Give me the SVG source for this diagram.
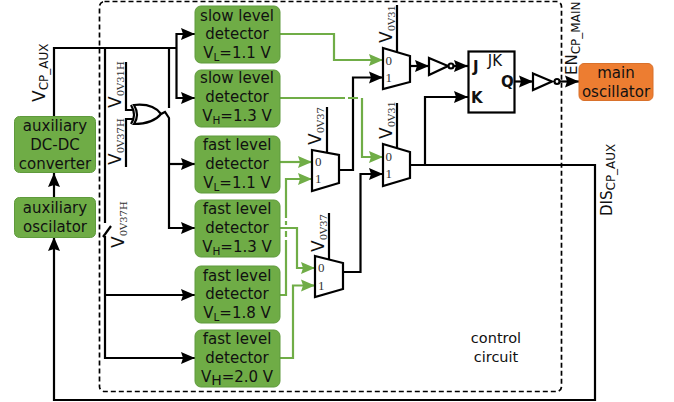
<svg xmlns="http://www.w3.org/2000/svg" width="674" height="402" viewBox="0 0 674 402">
<style>
text{font-family:"DejaVu Sans",sans-serif;fill:#111}
.n rect{fill:#6fac46;stroke:#5f9a3c;stroke-width:1}
.t{font-size:15px;text-anchor:middle}
.sub{font-size:10.5px}
.k{fill:none;stroke:#000;stroke-width:2.200}
.g{fill:none;stroke:#70ad47;stroke-width:2.200}
.gate{fill:#fff;stroke:#000;stroke-width:2.200}
.lab{font-size:17px}
.lab2{font-size:15px}
.ser{font-family:"DejaVu Serif",serif;font-size:10px;fill:#333}
.m{font-family:"Liberation Serif",serif;font-size:13px;fill:#333}
.b{font-size:15px;font-weight:bold}
</style>
<defs>
<marker id="ak" markerUnits="userSpaceOnUse" markerWidth="15" markerHeight="13" refX="14" refY="6.500" orient="auto"><path d="M0,0.500L14,6.500L0,12.500L2,6.500Z" fill="#000"/></marker>
<marker id="ag" markerUnits="userSpaceOnUse" markerWidth="15" markerHeight="13" refX="14" refY="6.500" orient="auto"><path d="M0,0.500L14,6.500L0,12.500L2,6.500Z" fill="#70ad47"/></marker>
</defs>
<rect x="99.500" y="1.500" width="462" height="390" rx="5" fill="none" stroke="#000" stroke-width="1.700" stroke-dasharray="5 3"/>
<g id="connectors">
<path class="k" d="M54,116V48H176.500"/>
<path class="k" d="M176.500,48V34H195" marker-end="url(#ak)"/>
<path class="k" d="M176.500,48V98H195" marker-end="url(#ak)"/>
<path class="k" d="M105,48V223"/>
<path class="k" d="M169,48V108"/>
<path class="k" d="M103,237L111,226"/>
<path class="k" d="M105,236V358H195" marker-end="url(#ak)"/>
<path class="k" d="M105,295H195" marker-end="url(#ak)"/>
<path class="k" d="M161,114L165,112L169,118V228H195" marker-end="url(#ak)"/>
<path class="k" d="M169,164H195" marker-end="url(#ak)"/>
<path class="k" d="M54,197V173" marker-end="url(#ak)"/>
<path class="k" d="M126,62V110H134"/>
<path class="k" d="M126,167V119H134"/>
<path class="k" d="M410,165H595V400H54V237" marker-end="url(#ak)"/>
<path class="k" d="M425,165V97H468" marker-end="url(#ak)"/>
<path class="k" d="M410,66H429" marker-end="url(#ak)"/>
<path class="k" d="M454,66H468" marker-end="url(#ak)"/>
<path class="k" d="M515,81.500H533" marker-end="url(#ak)"/>
<path class="k" d="M560,81.500H579" marker-end="url(#ak)"/>
<path class="k" d="M339,170H353V77.500H383" marker-end="url(#ak)"/>
<path class="k" d="M343,272H360.500V174H383" marker-end="url(#ak)"/>
<path class="k" d="M397,5V52"/>
<path class="k" d="M397,103V148"/>
<path class="k" d="M327,107V152"/>
<path class="k" d="M329,213V260"/>
<path class="g" d="M280,34H334V60H383" marker-end="url(#ag)"/>
<path class="g" d="M280,98H345M348,98H358"/>
<path class="g" d="M362,98V157H383" marker-end="url(#ag)"/>
<path class="g" d="M280,162H312" marker-end="url(#ag)"/>
<path class="g" d="M286,218V179H312" marker-end="url(#ag)"/>
<path class="g" d="M280,228H297V268H315" marker-end="url(#ag)"/>
<path class="g" d="M280,295H286V240M286,237V231M286,225V221"/>
<path class="g" d="M280,358H293V285.500H315" marker-end="url(#ag)"/>
</g>
<g id="xor">
<path class="k" d="M134,105Q153,103 161,114Q153,124 134,124Q140,115 134,105Z"/>
<path class="k" d="M131,105Q137,115 131,124"/>
</g>
<g id="mux-a"><path class="gate" d="M383,48L410,56V82L383,89Z"/><text class="m" x="385.500" y="65">0</text><text class="m" x="385.500" y="82">1</text></g>
<g id="mux-b"><path class="gate" d="M383,144L410,152V178L383,186Z"/><text class="m" x="385.500" y="161">0</text><text class="m" x="385.500" y="178">1</text></g>
<g id="mux-c"><path class="gate" d="M312,150L339,155V183L312,191Z"/><text class="m" x="315" y="166">0</text><text class="m" x="315" y="183">1</text></g>
<g id="mux-d"><path class="gate" d="M315,256L343,263V289L315,297Z"/><text class="m" x="318" y="272">0</text><text class="m" x="318" y="290">1</text></g>
<g id="inv-1"><path class="gate" d="M429,58L448,66L429,75Z"/><circle class="gate" cx="451" cy="66" r="2.500" stroke-width="1.500"/></g>
<g id="inv-2"><path class="gate" d="M533,73.500L552,81.500L533,90Z"/><circle class="gate" cx="557" cy="81.500" r="2.500" stroke-width="1.500"/></g>
<g id="jk"><rect class="gate" x="468.500" y="51.500" width="46" height="61"/>
<text x="495" y="66" font-size="15" text-anchor="middle">JK</text>
<text class="b" x="473" y="72">J</text>
<text class="b" x="471" y="103">K</text>
<text class="b" x="501" y="87">Q</text></g>
<g id="aux-dcdc" class="n"><rect x="14.500" y="116.500" width="81" height="56" rx="5"/><text class="t" x="55" y="131">auxiliary</text><text class="t" x="55" y="150">DC-DC</text><text class="t" x="55" y="169">converter</text></g>
<g id="aux-osc" class="n"><rect x="14.500" y="197.500" width="81" height="40" rx="5"/><text class="t" x="55" y="213">auxiliary</text><text class="t" x="55" y="232">oscilator</text></g>
<g id="det-1" class="n"><rect x="195" y="6" width="85" height="57" rx="6"/><text class="t" x="237" y="21">slow level</text><text class="t" x="237" y="39">detector</text><text class="t" x="237" y="58">V<tspan class="sub" dy="3">L</tspan><tspan dy="-3">=1.1 V</tspan></text></g>
<g id="det-2" class="n"><rect x="195" y="70" width="85" height="57" rx="6"/><text class="t" x="237" y="83">slow level</text><text class="t" x="237" y="102">detector</text><text class="t" x="237" y="121">V<tspan class="sub" dy="3">H</tspan><tspan dy="-3">=1.3 V</tspan></text></g>
<g id="det-3" class="n"><rect x="195" y="136" width="85" height="57" rx="6"/><text class="t" x="237" y="150">fast level</text><text class="t" x="237" y="169">detector</text><text class="t" x="237" y="188">V<tspan class="sub" dy="3">L</tspan><tspan dy="-3">=1.1 V</tspan></text></g>
<g id="det-4" class="n"><rect x="195" y="200" width="85" height="57" rx="6"/><text class="t" x="237" y="214">fast level</text><text class="t" x="237" y="233">detector</text><text class="t" x="237" y="252">V<tspan class="sub" dy="3">H</tspan><tspan dy="-3">=1.3 V</tspan></text></g>
<g id="det-5" class="n"><rect x="195" y="266" width="85" height="57" rx="6"/><text class="t" x="237" y="281">fast level</text><text class="t" x="237" y="299">detector</text><text class="t" x="237" y="318">V<tspan class="sub" dy="3">L</tspan><tspan dy="-3">=1.8 V</tspan></text></g>
<g id="det-6" class="n"><rect x="195" y="330" width="85" height="57" rx="6"/><text class="t" x="237" y="344">fast level</text><text class="t" x="237" y="363">detector</text><text class="t" x="237" y="382">V<tspan font-size="14" dy="3">H</tspan><tspan dy="-3">=2.0 V</tspan></text></g>
<g id="main-osc"><rect x="579" y="63.500" width="74" height="37" rx="5" fill="#ed7d31" stroke="#d9712b"/><text class="t" x="616" y="78">main</text><text class="t" x="616" y="97">oscillator</text></g>
<g id="labels">
<text class="lab" transform="translate(45,102) rotate(-90)">V<tspan font-size="12" dy="3">CP_AUX</tspan></text>
<text class="lab" transform="translate(121,108) rotate(-90)">V<tspan class="ser" dy="3">0V31H</tspan></text>
<text class="lab" transform="translate(121,165) rotate(-90)">V<tspan class="ser" dy="3">0V37H</tspan></text>
<text class="lab" transform="translate(124,248) rotate(-90)">V<tspan class="ser" dy="3">0V37H</tspan></text>
<text class="lab" transform="translate(392,43) rotate(-90)">V<tspan class="ser" dy="3">0V31</tspan></text>
<text class="lab" transform="translate(392,139) rotate(-90)">V<tspan class="ser" dy="3">0V31</tspan></text>
<text class="lab" transform="translate(321,145) rotate(-90)">V<tspan class="ser" dy="3">0V37</tspan></text>
<text class="lab" transform="translate(324,252) rotate(-90)">V<tspan class="ser" dy="3">0V37</tspan></text>
<text class="lab2" transform="translate(577,75) rotate(-90)">EN<tspan font-size="12" dy="3">CP_MAIN</tspan></text>
<text class="lab2" transform="translate(612,216) rotate(-90)">DIS<tspan font-size="12" dy="3">CP_AUX</tspan></text>
<text font-size="14.500" text-anchor="middle" x="496" y="343">control</text>
<text font-size="14.500" text-anchor="middle" x="496" y="362">circuit</text>
</g>
</svg>
